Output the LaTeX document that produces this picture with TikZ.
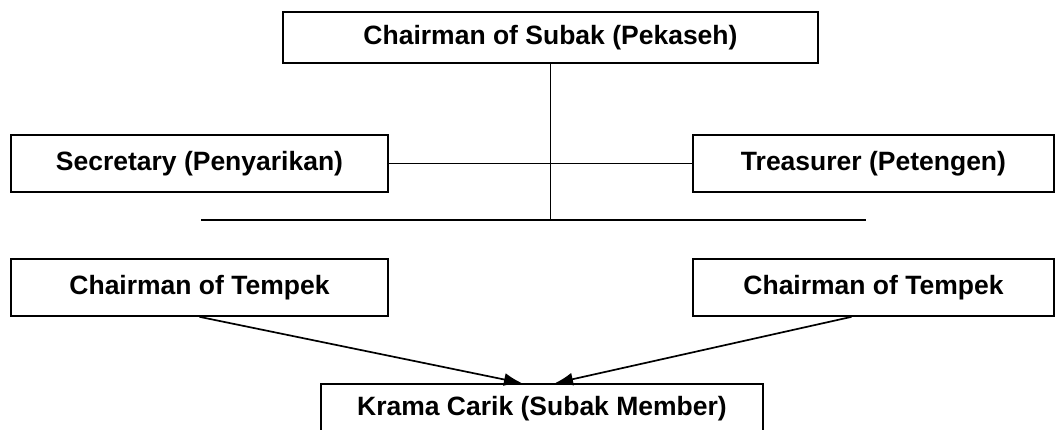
\documentclass[tikz,border=0pt]{standalone}
\usepackage{fontspec}
\setmainfont{Liberation Sans}
\usetikzlibrary{arrows.meta}
\tikzset{>={Latex[length=18pt,width=13pt]}}
\tikzset{
	box/.style={draw, line width=1.7pt, inner sep=0pt, font=\bfseries\fontsize{26.5}{30}\selectfont},
	link/.style={line width=1.7pt}
}

\begin{document}
\begin{tikzpicture}[x=1pt, y=-1pt]
		% Frame
		\useasboundingbox (0,0) rectangle (1055,430);

		% Boxes
		\node[box, minimum width=535pt, minimum height=51pt] (chair) at (550.5,37.5) {Chairman of Subak (Pekaseh)};
		\node[box, minimum width=377pt, minimum height=57pt] (secr) at (199.5,163.5) {Secretary (Penyarikan)};
		\node[box, minimum width=361pt, minimum height=57pt] (treas) at (873.5,163.5) {Treasurer (Petengen)};
		\node[box, minimum width=377pt, minimum height=57pt] (tempekL) at (199.5,287.5) {Chairman of Tempek};
		\node[box, minimum width=361pt, minimum height=57pt] (tempekR) at (873.5,287.5) {Chairman of Tempek};
		\node[box, minimum width=442pt, minimum height=50pt] (krama) at (542,409) {Krama Carik (Subak Member)};

		% Lines
		\coordinate (busL) at (201,220);
		\coordinate (busR) at (866,220);
		\draw[link] (busL) -- (busR);
		\draw[link] (chair.south) -- (chair.south |- busL);
		\draw[link] (secr.east) -- (treas.west);

		% Arrows
		\draw[link, ->] (tempekL.south) -- ([xshift=-20pt]krama.north);
		\draw[link, ->] ([xshift=-22pt]tempekR.south) -- ([xshift=13pt]krama.north);
	\end{tikzpicture}
\end{document}
